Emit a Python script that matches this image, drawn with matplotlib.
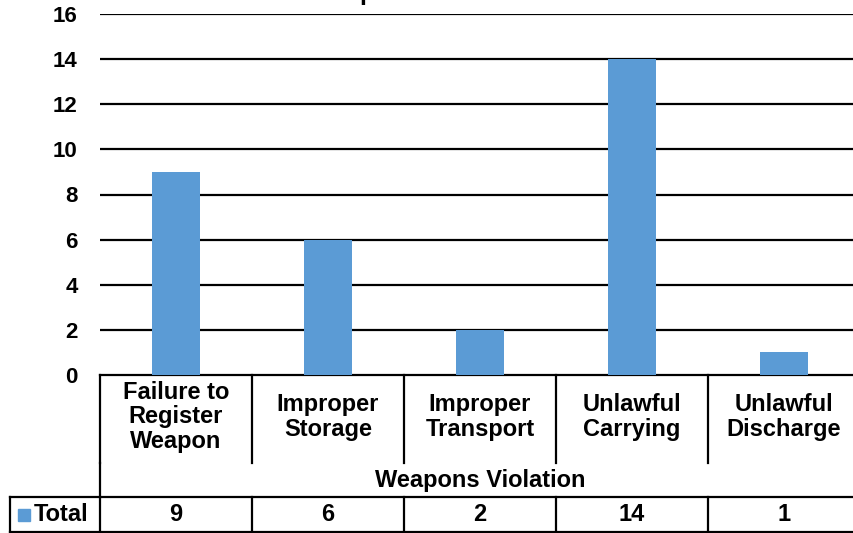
import matplotlib
matplotlib.use("Agg")
import matplotlib.pyplot as plt
from matplotlib.lines import Line2D
from matplotlib.patches import Rectangle

CATEGORIES = ["Failure to\nRegister\nWeapon", "Improper\nStorage", "Improper\nTransport",
              "Unlawful\nCarrying", "Unlawful\nDischarge"]
TOTALS = [9, 6, 2, 14, 1]
Y_TICKS = [0, 2, 4, 6, 8, 10, 12, 14, 16]
AXIS_TITLE = "Weapons Violation"
SERIES_NAME = "Total"
CHART_TITLE = "Weapons Violations"

BAR_COLOR = "#5B9BD5"
W, H = 854, 533
FS = 17

plt.rcParams["font.family"] = ["Liberation Sans", "DejaVu Sans"]
plt.rcParams["font.weight"] = "bold"

fig = plt.figure(figsize=(W / 100, H / 100), dpi=100)
# plot area in pixels: x 100..860, y 14..375
ax = fig.add_axes([100 / W, (H - 375) / H, 760 / W, 361 / H])

n = len(CATEGORIES)
x = list(range(n))
ax.bar(x, TOTALS, width=0.31, color=BAR_COLOR, zorder=3)
ax.set_xlim(-0.5, n - 0.5)
ax.set_ylim(0, 16)
ax.set_yticks(Y_TICKS)
ax.set_yticklabels([str(t) for t in Y_TICKS], fontsize=16, fontweight="bold")
ax.tick_params(axis="y", length=0, pad=16)
ax.set_xticks([])
for s in ax.spines.values():
    s.set_visible(False)
for t in Y_TICKS[1:]:
    ax.axhline(t, color="black", lw=1.6, zorder=1)

# table below the plot, in axes-fraction y
px = 1 / 361
y0 = 0.0
y_cat = -(463 - 375) * px
y_axis = -(497 - 375) * px
y_bot = -(532 - 375) * px
tr = ax.get_xaxis_transform()
lw = 1.6
kw = dict(color="black", lw=lw, transform=tr, clip_on=False)

ax.add_line(Line2D([-0.5, n - 0.5], [y0, y0], **kw))
for i in range(n + 1):
    xe = i - 0.5
    ax.add_line(Line2D([xe, xe], [y0, y_cat], **kw))
    ax.add_line(Line2D([xe, xe], [y_axis, y_bot], **kw))
ax.add_line(Line2D([-0.5, -0.5], [y_cat, y_axis], **kw))

# total row borders extend left to x=10 px
x_left = -0.5 - 90 / 152
ax.add_line(Line2D([x_left, n - 0.5], [y_axis, y_axis], **kw))
ax.add_line(Line2D([x_left, n - 0.5], [y_bot, y_bot], **kw))
ax.add_line(Line2D([x_left, x_left], [y_axis, y_bot], **kw))

for i, lab in enumerate(CATEGORIES):
    ax.text(i, (y0 + y_cat) / 2 + 2 * px, lab, transform=tr, ha="center", va="center",
            fontsize=FS, fontweight="bold", linespacing=1.1)
    ax.text(i, (y_axis + y_bot) / 2, str(TOTALS[i]), transform=tr, ha="center",
            va="center", fontsize=FS, fontweight="bold")

ax.text((n - 1) / 2, (y_cat + y_axis) / 2, AXIS_TITLE, transform=tr, ha="center",
        va="center", fontsize=FS, fontweight="bold")

# legend key + series name
ax.add_patch(Rectangle((x_left + 8 / 152, (y_axis + y_bot) / 2 - 6 * px), 12 / 152, 12 * px,
                       transform=tr, color=BAR_COLOR, clip_on=False))
ax.text(x_left + 24 / 152, (y_axis + y_bot) / 2, SERIES_NAME, transform=tr, ha="left",
        va="center", fontsize=FS, fontweight="bold")

# title, mostly cut off above the canvas
fig.text(0.5, 1.0, CHART_TITLE, ha="center", va="baseline", fontsize=18, fontweight="bold")

fig.savefig("out.png", dpi=100)
